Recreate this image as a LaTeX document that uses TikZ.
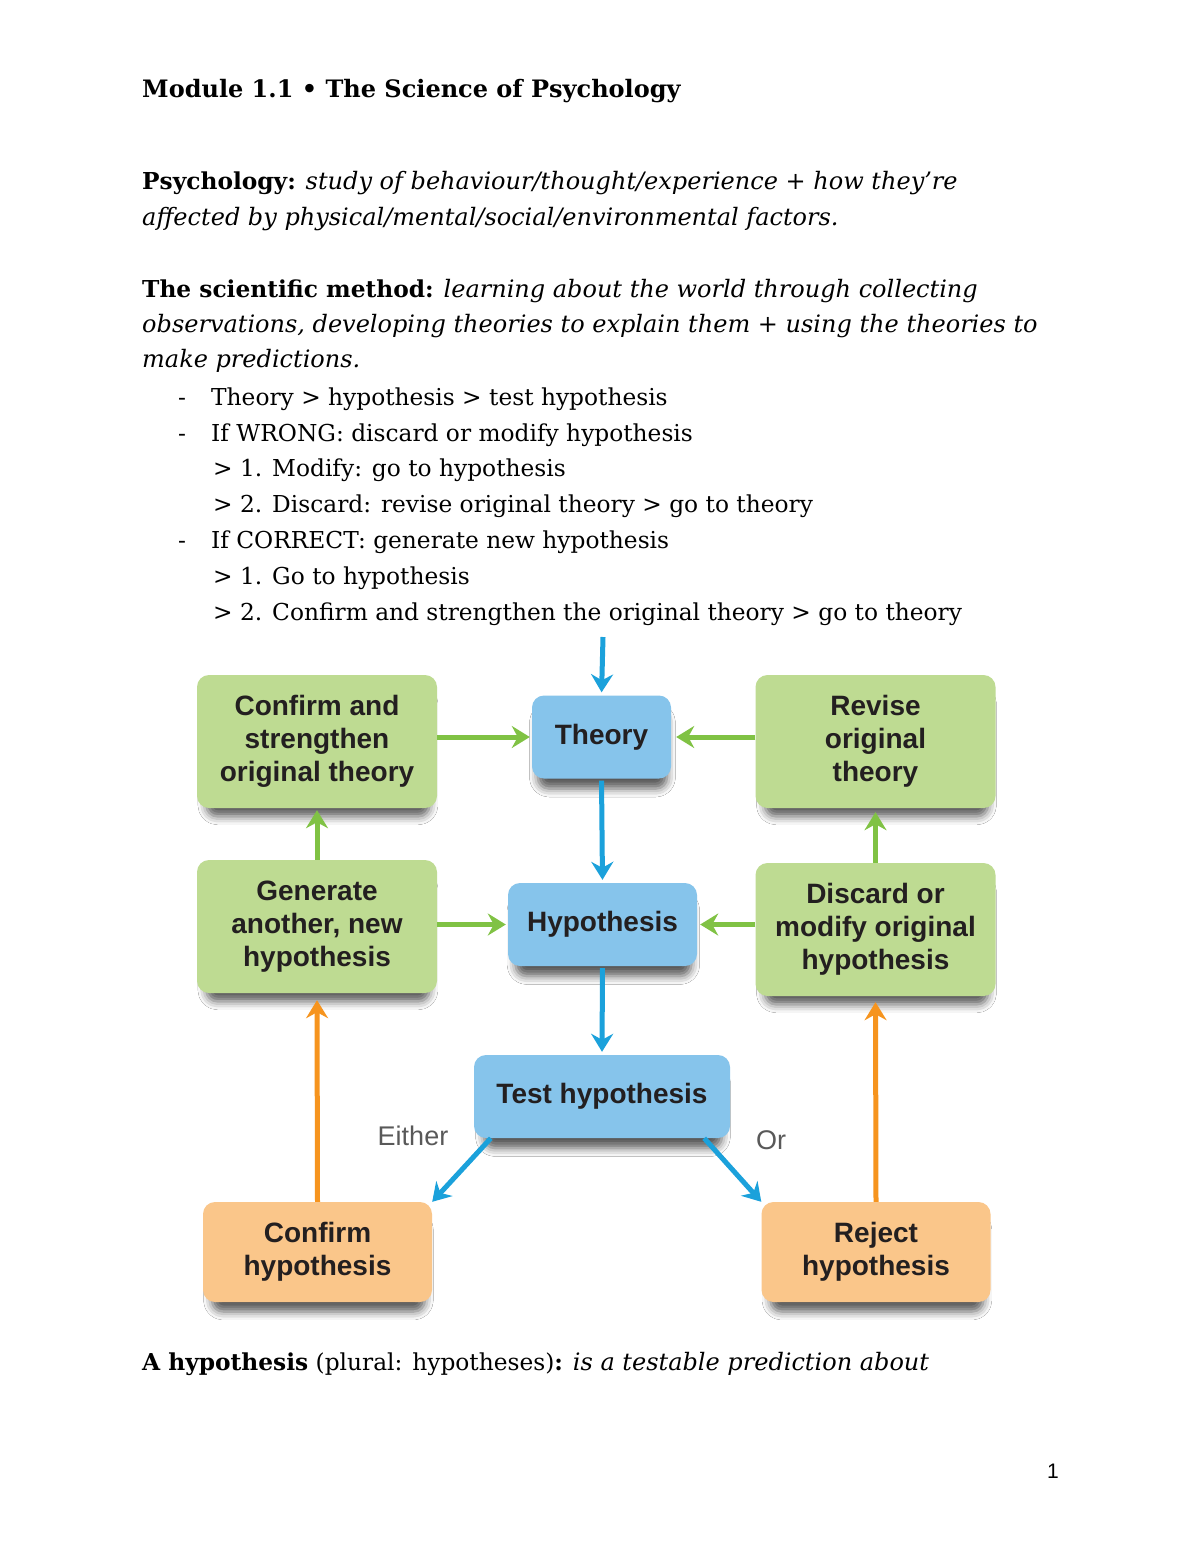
\documentclass[tikz,border=0pt]{standalone}
\usepackage{fontspec}
\setmainfont{DejaVu Serif}
\newfontfamily\boxfont{Liberation Sans}
\usetikzlibrary{arrows.meta, positioning, shadows.blur}

\definecolor{cardgreen}{RGB}{190,219,146}
\definecolor{cardblue}{RGB}{134,196,235}
\definecolor{cardorange}{RGB}{250,198,138}
\definecolor{cardtext}{RGB}{35,31,32}
\definecolor{arrblue}{RGB}{27,161,219}
\definecolor{arrgreen}{RGB}{128,194,68}
\definecolor{arrorange}{RGB}{246,148,30}

\newcommand{\slant}[1]{{\fontsize{24}{36}\selectfont\itshape #1}}

\begin{document}
\begin{tikzpicture}[
    x=1pt, y=-1pt,
    >={Stealth[length=18pt, width=22pt, inset=6pt]},
    line/.style={line width=5pt, ->},
    page/.style={anchor=base west, inner sep=0pt, font=\fontsize{23.3}{36}\selectfont},
    card/.style={rounded corners=12pt, align=center, text=cardtext, inner sep=0pt,
        font=\boxfont\bfseries\fontsize{28}{33}\selectfont,
        blur shadow={shadow xshift=1pt, shadow yshift=-14pt, shadow scale=0.93,
            shadow blur radius=9pt, shadow opacity=65}},
    green card/.style={card, fill=cardgreen, minimum width=240pt, minimum height=133pt},
    blue card/.style={card, fill=cardblue, minimum height=83pt},
    orange card/.style={card, fill=cardorange, minimum width=229pt, minimum height=100pt},
    either/.style={text=black!65, font=\boxfont\fontsize{27}{33}\selectfont},
]

    \fill[white] (0,0) rectangle (1200,1553);
    \useasboundingbox (0,0) rectangle (1200,1553);

    % notes above the chart
    \node[page, font=\bfseries\fontsize{24}{36}\selectfont] (title) at (142,97)
        {Module 1.1 • The Science of Psychology};
    \node[page] (psy1) at (142,189) {\textbf{Psychology:} \slant{study of behaviour/thought/experience + how they’re}};
    \node[page] (psy2) at (142,225) {\slant{affected by physical/mental/social/environmental factors.}};
    \node[page] (sci1) at (142,297) {\textbf{The scientific method:} \slant{learning about the world through collecting}};
    \node[page] (sci2) at (142,332) {\slant{observations, developing theories to explain them + using the theories to}};
    \node[page] (sci3) at (142,367) {\slant{make predictions.}};

    \node[page] (d1) at (178,405) {-};
    \node[page] (l1) at (211,405) {Theory > hypothesis > test hypothesis};
    \node[page] (d2) at (178,441) {-};
    \node[page] (l2) at (211,441) {If WRONG: discard or modify hypothesis};
    \node[page] (l3) at (213,476) {> 1. Modify: go to hypothesis};
    \node[page] (l4) at (213,512) {> 2. Discard: revise original theory > go to theory};
    \node[page] (d3) at (178,548) {-};
    \node[page] (l5) at (211,548) {If CORRECT: generate new hypothesis};
    \node[page] (l6) at (213,584) {> 1. Go to hypothesis};
    \node[page] (l7) at (213,620) {> 2. Confirm and strengthen the original theory > go to theory};

    % the chart
    \node[green card]                   (strengthen) at (317,741.5) {Confirm and\\strengthen\\original theory};
    \node[blue card, minimum width=139pt] (theory)   at (601.5,737) {Theory};
    \node[green card]                   (revise)     at (875.5,741.5) {Revise\\original\\theory};
    \node[green card]                   (generate)   at (317,926.5) {Generate\\another, new\\hypothesis};
    \node[blue card, minimum width=189pt] (hypo)     at (602.5,924.5) {Hypothesis};
    \node[green card]                   (discard)    at (875.5,929.5) {Discard or\\modify original\\hypothesis};
    \node[blue card, minimum width=256pt] (test)     at (602,1096.5) {Test hypothesis};
    \node[orange card]                  (confirm)    at (317.5,1252) {Confirm\\hypothesis};
    \node[orange card]                  (reject)     at (876,1252) {Reject\\hypothesis};

    \coordinate (start) at (603,637);
    \node[either] (either) at (413,1136) {Either};
    \node[either] (or)     at (771,1140) {Or};

    \path[line, arrblue]
        (start)                        edge [shorten >=3pt] (theory.north)
        (theory.south)                 edge [shorten <=2pt, shorten >=3pt] (hypo.north)
        (hypo.south)                   edge [shorten <=2pt, shorten >=3pt] (test.north)
        ([xshift=17pt]test.south west) edge (confirm.north east)
        ([xshift=-26pt]test.south east) edge (reject.north west)
    ;
    \path[line, arrgreen]
        (strengthen.east |- theory)    edge [shorten >=2pt] (theory.west)
        (revise.west |- theory)        edge [shorten >=5pt] (theory.east)
        (generate.north)               edge [shorten >=2pt] (strengthen.south)
        (discard.north)                edge [shorten >=4pt] (revise.south)
        (generate.east |- hypo)        edge [shorten >=2pt] (hypo.west)
        (discard.west |- hypo)         edge [shorten >=3pt] (hypo.east)
    ;
    \path[line, arrorange]
        (confirm.north)                edge [shorten >=7pt] (generate.south)
        (reject.north)                 edge [shorten >=6pt] (discard.south)
    ;

    % note below the chart
    \node[page] (hyp) at (142,1370) {\textbf{A hypothesis} (plural: hypotheses)\textbf{:} \slant{is a testable prediction about}};
    \node[page, font=\boxfont\fontsize{21}{24}\selectfont] (pageno) at (1047,1478) {1};

\end{tikzpicture}
\end{document}
